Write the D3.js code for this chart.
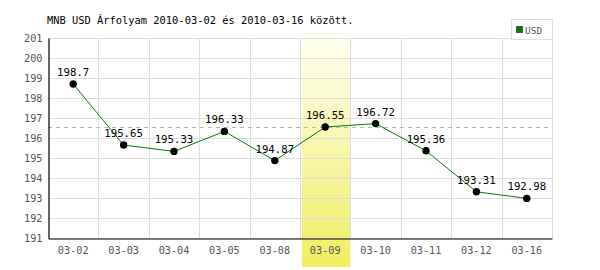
<!DOCTYPE html>
<html><head><meta charset="utf-8">
<script src="https://cdn.jsdelivr.net/npm/d3@7"></script>
<style>body{margin:0;background:#fff}svg{display:block}</style>
</head><body><svg id="c" width="600" height="270"></svg>
<script>
const categories = ["03-02","03-03","03-04","03-05","03-08","03-09","03-10","03-11","03-12","03-16"];
const values = [198.7,195.65,195.33,196.33,194.87,196.55,196.72,195.36,193.31,192.98];
const valueLabels = ["198.7","195.65","195.33","196.33","194.87","196.55","196.72","195.36","193.31","192.98"];
const yTicks = [191,192,193,194,195,196,197,198,199,200,201];
const highlightIndex = 5;
const seriesName = "USD";
const title = "MNB USD Árfolyam 2010-03-02 és 2010-03-16 között.";

const svg = d3.select("#c");
const font = "'DejaVu Sans Mono', monospace";
const fs = 10.2;
const L = 48, R = 552, T = 38, B = 238;
const x = d3.scaleBand().domain(categories).range([L, R]);
const y = d3.scaleLinear().domain([191, 201]).range([B, T]);

const defs = svg.append("defs");
const g = defs.append("linearGradient").attr("id","hl").attr("x1",0).attr("y1",0).attr("x2",0).attr("y2",1);
g.append("stop").attr("offset","0%").attr("stop-color","#fffff4");
g.append("stop").attr("offset","100%").attr("stop-color","#f0ee60");

// highlight band
svg.append("rect").attr("x", x(categories[highlightIndex])+2).attr("y", 33)
  .attr("width", x.bandwidth()-2).attr("height", 267-33).attr("fill","url(#hl)");

// horizontal grid
svg.append("g").selectAll("line").data(yTicks).join("line")
  .attr("x1", L).attr("x2", R).attr("y1", d=>Math.round(y(d))+0.5).attr("y2", d=>Math.round(y(d))+0.5)
  .attr("stroke","#dddddd");
// vertical grid
svg.append("g").selectAll("line").data(categories).join("line")
  .attr("x1", d=>Math.round(x(d)+x.bandwidth())+0.5).attr("x2", d=>Math.round(x(d)+x.bandwidth())+0.5)
  .attr("y1", T).attr("y2", B).attr("stroke","#dddddd");

// dashed reference line at highlighted value
svg.append("line").attr("x1", L).attr("x2", R)
  .attr("y1", Math.round(y(values[highlightIndex]))+0.5).attr("y2", Math.round(y(values[highlightIndex]))+0.5)
  .attr("stroke","#a3c4a3").attr("stroke-dasharray","4,4");

// axes
const yAxis = svg.append("g").attr("transform",`translate(${L+0.5},0)`)
  .call(d3.axisLeft(y).tickValues(yTicks).tickSize(0).tickPadding(6).tickFormat(d3.format("d")));
yAxis.select(".domain").attr("stroke","#000").attr("stroke-width",1.2);
yAxis.selectAll("text").attr("font-family",font).attr("font-size",fs).attr("fill","#555");

const xAxis = svg.append("g").attr("transform",`translate(0,${B+0.5})`)
  .call(d3.axisBottom(x).tickSize(0).tickPadding(8));
xAxis.select(".domain").attr("stroke","#000").attr("stroke-width",1.2);
xAxis.selectAll("text").attr("font-family",font).attr("font-size",fs).attr("fill","#555");

// line
const cx = (d,i)=>x(categories[i])+x.bandwidth()/2;
svg.append("path").datum(values)
  .attr("d", d3.line().x((d,i)=>cx(d,i)).y(d=>y(d)))
  .attr("fill","none").attr("stroke","#008000").attr("stroke-width",1);
svg.append("g").selectAll("circle").data(values).join("circle")
  .attr("cx",(d,i)=>cx(d,i)).attr("cy",d=>y(d)).attr("r",3.7).attr("fill","#000");
svg.append("g").selectAll("text").data(values).join("text")
  .attr("x",(d,i)=>cx(d,i)).attr("y",d=>y(d)-8).attr("text-anchor","middle")
  .attr("font-family",font).attr("font-size",fs+0.5).attr("fill","#000")
  .text((d,i)=>valueLabels[i]);

// title
svg.append("text").attr("x",47).attr("y",24).attr("font-family",font).attr("font-size",fs+0.2)
  .attr("fill","#000").text(title);

// legend
svg.append("rect").attr("x",511.5).attr("y",19.5).attr("width",41).attr("height",20)
  .attr("fill","#fff").attr("stroke","#dddddd");
svg.append("rect").attr("x",516.5).attr("y",26.5).attr("width",6).attr("height",6)
  .attr("fill","#008000").attr("stroke","#555");
svg.append("text").attr("x",525).attr("y",34).attr("font-family",font).attr("font-size",9.5)
  .attr("fill","#555").text(seriesName);
</script></body></html>
